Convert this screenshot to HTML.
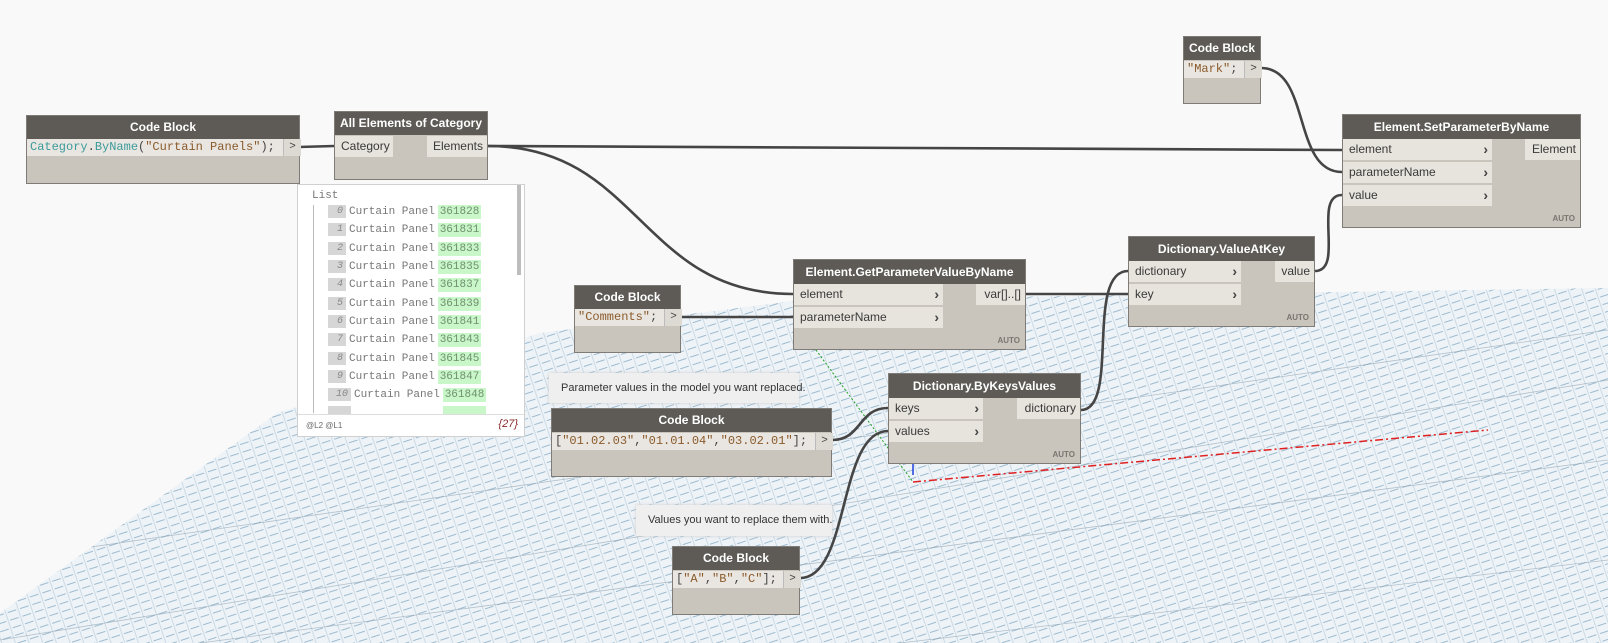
<!DOCTYPE html>
<html><head><meta charset="utf-8"><style>
body{margin:0;width:1608px;height:643px;overflow:hidden;background:#f9f9f9;position:relative;font-family:"Liberation Sans",sans-serif}
.n{position:absolute;background:#c9c4bc;border:1px solid #7f7b76;box-sizing:border-box}
.hd{position:absolute;left:0;right:0;top:0;height:23px;background:#5e5b57;color:#fff;font-weight:bold;font-size:12px;text-align:center;line-height:23px;white-space:nowrap}
.p{position:absolute;background:#e7e3dd;height:21px;font-size:12px;line-height:21px;color:#3a3a3a;padding-left:6px;box-sizing:border-box;white-space:nowrap}
.p .c{position:absolute;right:4px;top:0;font-weight:bold;color:#444;font-size:14px}
.o{position:absolute;background:#e7e3dd;height:21px;font-size:12px;line-height:21px;color:#3a3a3a;text-align:right;padding-right:4px;box-sizing:border-box}
.code{position:absolute;left:0;top:23px;height:17px;background:#e9e6e1;font-family:"Liberation Mono",monospace;font-size:12px;line-height:17px;padding-left:3px;box-sizing:border-box;white-space:nowrap;color:#8a5a2a}
.gt{position:absolute;top:23px;height:17px;width:17px;background:#ddd9d3;border-left:1px solid #bbb;font-family:"Liberation Mono",monospace;font-size:11px;line-height:17px;text-align:center;color:#444}
.auto{position:absolute;right:5px;bottom:4px;font-size:8px;font-weight:bold;color:#7a7670}
.note{position:absolute;background:#efefef;box-shadow:0 0 3px #ccc;font-size:11px;color:#333;line-height:30px;padding-left:12px;box-sizing:border-box;white-space:nowrap}
.w{position:absolute;left:297px;top:184px;width:228px;height:253px;background:#fff;border:1px solid #d0d0d0;box-sizing:border-box;font-family:"Liberation Mono",monospace;font-size:11px;color:#777;overflow:hidden}
.r{position:absolute;height:14px;line-height:14px}
.ix{position:absolute;left:30px;width:18px;height:13px;background:#d6d6d6;font-style:italic;font-size:10px;text-align:right;padding-right:3px;box-sizing:border-box;color:#888}
.tx{position:absolute;left:51px}
.gr{position:absolute;left:140px;width:43px;height:14px;background:#c9f7c9;color:#6f8f6f;text-align:center}
</style></head><body>
<svg width="1608" height="643" style="position:absolute;left:0;top:0">
<defs>
<clipPath id="pl"><polygon points="0,613 277,413 540,333 800,300 1608,288 1608,643 0,643"/></clipPath>
<pattern id="g1" width="13" height="8" patternUnits="userSpaceOnUse" patternTransform="rotate(-18)">
<rect width="13" height="8" fill="#eef3f7"/>
<line x1="0" y1="1" x2="9" y2="1" stroke="#9dbbd0" stroke-width="1"/>
<line x1="11" y1="0" x2="11" y2="8" stroke="#c2d4e1" stroke-width="0.8"/>
</pattern>
</defs>
<rect x="0" y="0" width="1608" height="643" fill="url(#g1)" clip-path="url(#pl)"/>
<g clip-path="url(#pl)" stroke="#8aa0b0" stroke-width="0.8" opacity="0.6">
<line x1="0" y1="640" x2="1608" y2="380"/><line x1="0" y1="560" x2="1608" y2="330"/><line x1="200" y1="643" x2="1608" y2="460"/>
<line x1="900" y1="643" x2="1608" y2="560"/>
</g>
<line x1="913" y1="482" x2="1488" y2="430" stroke="#e02020" stroke-width="1.5" stroke-dasharray="8,3,2,3"/>
<line x1="816" y1="350" x2="913" y2="482" stroke="#20a020" stroke-width="1" stroke-dasharray="2,2"/>
<line x1="913" y1="463" x2="913" y2="475" stroke="#2040e0" stroke-width="1.5"/>
<g fill="none" stroke="#454545" stroke-width="2.6">
<path d="M299,147 L334,146"/>
<path d="M488,146 L1342,150"/>
<path d="M488,146 C640,146 640,294 793,294"/>
<path d="M681,317 L793,317"/>
<path d="M1261,68 C1311,68 1292,172 1342,172"/>
<path d="M1026,294 L1128,294"/>
<path d="M1081,410 C1120,410 1085,271 1128,271"/>
<path d="M1315,271 C1345,271 1312,195 1342,195"/>
<path d="M832,440 C862,440 858,408 888,408"/>
<path d="M800,578 C850,578 838,431 888,431"/>
</g>
</svg>

<div class="n" style="left:26px;top:115px;width:274px;height:69px">
<div class="hd">Code Block</div>
<div class="code" style="width:256px"><span style="color:#3a9a9a">Category</span><span style="color:#444">.</span><span style="color:#3a9a9a">ByName</span><span style="color:#444">(</span>"Curtain Panels"<span style="color:#444">);</span></div>
<div class="gt" style="left:256px">&gt;</div></div>

<div class="n" style="left:334px;top:111px;width:154px;height:69px">
<div class="hd">All Elements of Category</div>
<div class="p" style="left:0;top:24px;width:58px">Category</div>
<div class="o" style="right:0;top:24px;width:60px">Elements</div></div>

<div class="w">
<div style="position:absolute;left:14px;top:5px">List</div>
<div style="position:absolute;left:15px;top:20px;width:1px;height:208px;background:#bbb"></div>
<div style="position:absolute;left:219px;top:0;width:4px;height:90px;background:#bdbdbd"></div>
<div class="r" style="top:20px;width:200px"><span class="ix">0</span><span class="tx">Curtain Panel</span><span class="gr">361828</span></div>
<div class="r" style="top:38px;width:200px"><span class="ix">1</span><span class="tx">Curtain Panel</span><span class="gr">361831</span></div>
<div class="r" style="top:57px;width:200px"><span class="ix">2</span><span class="tx">Curtain Panel</span><span class="gr">361833</span></div>
<div class="r" style="top:75px;width:200px"><span class="ix">3</span><span class="tx">Curtain Panel</span><span class="gr">361835</span></div>
<div class="r" style="top:93px;width:200px"><span class="ix">4</span><span class="tx">Curtain Panel</span><span class="gr">361837</span></div>
<div class="r" style="top:112px;width:200px"><span class="ix">5</span><span class="tx">Curtain Panel</span><span class="gr">361839</span></div>
<div class="r" style="top:130px;width:200px"><span class="ix">6</span><span class="tx">Curtain Panel</span><span class="gr">361841</span></div>
<div class="r" style="top:148px;width:200px"><span class="ix">7</span><span class="tx">Curtain Panel</span><span class="gr">361843</span></div>
<div class="r" style="top:167px;width:200px"><span class="ix">8</span><span class="tx">Curtain Panel</span><span class="gr">361845</span></div>
<div class="r" style="top:185px;width:200px"><span class="ix">9</span><span class="tx">Curtain Panel</span><span class="gr">361847</span></div>
<div class="r" style="top:203px;width:200px"><span class="ix" style="width:23px">10</span><span class="tx" style="left:56px">Curtain Panel</span><span class="gr" style="left:145px">361848</span></div>
<div class="r" style="top:221px;width:200px;height:8px;overflow:hidden"><span class="ix" style="width:23px"></span><span class="gr" style="left:145px"></span></div>
<div style="position:absolute;left:0;right:0;top:229px;height:1px;background:#ddd"></div>
<div style="position:absolute;left:8px;top:236px;font-family:'Liberation Sans',sans-serif;font-size:8px;color:#666">@L2 @L1</div>
<div style="position:absolute;right:6px;top:233px;font-family:'Liberation Sans',sans-serif;font-size:11px;font-style:italic;color:#8a2a2a">{27}</div>
</div>

<div class="n" style="left:1183px;top:36px;width:78px;height:68px">
<div class="hd">Code Block</div>
<div class="code" style="width:60px;top:24px">"Mark"<span style="color:#444">;</span></div>
<div class="gt" style="left:60px;top:24px">&gt;</div></div>

<div class="n" style="left:1342px;top:114px;width:239px;height:114px">
<div class="hd" style="height:24px;line-height:24px">Element.SetParameterByName</div>
<div class="p" style="left:0;top:24px;width:149px">element<span class="c">›</span></div>
<div class="p" style="left:0;top:47px;width:149px">parameterName<span class="c">›</span></div>
<div class="p" style="left:0;top:70px;width:149px">value<span class="c">›</span></div>
<div class="o" style="right:0;top:24px;width:55px">Element</div>
<div class="auto">AUTO</div></div>

<div class="n" style="left:1128px;top:236px;width:187px;height:91px">
<div class="hd" style="height:24px;line-height:24px">Dictionary.ValueAtKey</div>
<div class="p" style="left:0;top:24px;width:112px">dictionary<span class="c">›</span></div>
<div class="p" style="left:0;top:47px;width:112px">key<span class="c">›</span></div>
<div class="o" style="right:0;top:24px;width:39px">value</div>
<div class="auto">AUTO</div></div>

<div class="n" style="left:793px;top:259px;width:233px;height:91px">
<div class="hd" style="height:24px;line-height:24px">Element.GetParameterValueByName</div>
<div class="p" style="left:0;top:24px;width:149px">element<span class="c">›</span></div>
<div class="p" style="left:0;top:47px;width:149px">parameterName<span class="c">›</span></div>
<div class="o" style="right:0;top:24px;width:49px">var[]..[]</div>
<div class="auto">AUTO</div></div>

<div class="n" style="left:574px;top:285px;width:107px;height:68px">
<div class="hd">Code Block</div>
<div class="code" style="width:89px">"Comments"<span style="color:#444">;</span></div>
<div class="gt" style="left:89px">&gt;</div></div>

<div class="note" style="left:549px;top:373px;width:250px;height:30px">Parameter values in the model you want replaced.</div>

<div class="n" style="left:551px;top:408px;width:281px;height:69px">
<div class="hd">Code Block</div>
<div class="code" style="width:263px;top:24px"><span style="color:#444">[</span>"01.02.03"<span style="color:#444">,</span>"01.01.04"<span style="color:#444">,</span>"03.02.01"<span style="color:#444">];</span></div>
<div class="gt" style="left:263px;top:24px">&gt;</div></div>

<div class="n" style="left:888px;top:373px;width:193px;height:91px">
<div class="hd" style="height:24px;line-height:24px">Dictionary.ByKeysValues</div>
<div class="p" style="left:0;top:24px;width:94px">keys<span class="c">›</span></div>
<div class="p" style="left:0;top:47px;width:94px">values<span class="c">›</span></div>
<div class="o" style="right:0;top:24px;width:63px">dictionary</div>
<div class="auto">AUTO</div></div>

<div class="note" style="left:636px;top:505px;width:196px;height:31px">Values you want to replace them with.</div>

<div class="n" style="left:672px;top:546px;width:128px;height:69px">
<div class="hd">Code Block</div>
<div class="code" style="width:110px;top:24px"><span style="color:#444">[</span>"A"<span style="color:#444">,</span>"B"<span style="color:#444">,</span>"C"<span style="color:#444">];</span></div>
<div class="gt" style="left:110px;top:24px">&gt;</div></div>
</body></html>
